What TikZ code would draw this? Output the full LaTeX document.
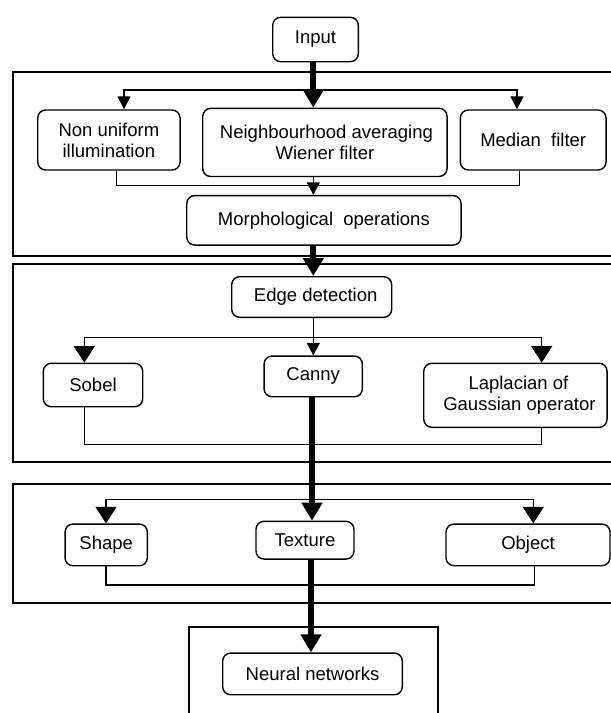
\documentclass[tikz,border=0pt]{standalone}
\usepackage{fontspec}
\setmainfont{Liberation Sans}
\usetikzlibrary{arrows.meta}
\begin{document}
\begin{tikzpicture}[x=1pt,y=-1pt,
  box/.style={draw, line width=1.4pt, rounded corners=8pt, align=center, inner sep=0pt,
              font=\fontsize{18.5}{21}\selectfont},
  panel/.style={line width=1.9pt},
  thinline/.style={line width=1.3pt},
  thickarrow/.style={line width=6pt, -{Triangle[width=20pt,length=18pt]}},
  smallarrow/.style={line width=1.3pt, -{Triangle[width=13pt,length=12.5pt]}},
  bigboth/.style={line width=1.3pt, {Triangle[width=21pt,length=16.5pt]}-{Triangle[width=21pt,length=16.5pt]}},
  smallboth/.style={line width=1.3pt, {Triangle[width=13pt,length=13pt]}-{Triangle[width=13pt,length=13pt]}},
]
\useasboundingbox (0,0) rectangle (611,713);
\fill[white] (0,0) rectangle (611,713);

% panels
\draw[panel] (613,71.7) -- (12.7,71.7) -- (12.7,256) -- (613,256);
\draw[panel] (613,264) -- (12.7,264) -- (12.7,461.7) -- (613,461.7);
\draw[panel] (613,483.7) -- (12.7,483.7) -- (12.7,603.3) -- (613,603.3);
\draw[panel] (189.3,715) -- (189.3,627) -- (438.3,627) -- (438.3,715);

% nodes
\node[box, minimum width=85.6pt, minimum height=44.4pt] (in) at (315.5,39.5) {Input};
\node[box, minimum width=142.3pt, minimum height=60pt] (nu) at (108.9,140) {Non uniform\\illumination};
\node[box, minimum width=244.3pt, minimum height=68.2pt] (nb) at (324.9,142.4) {\,Neighbourhood averaging\\Wiener filter};
\node[box, minimum width=145.7pt, minimum height=60pt] (med) at (533.2,140) {Median\ \ filter};
\node[box, minimum width=274.3pt, minimum height=49.5pt] (morph) at (323.9,220.3) {Morphological\ \ operations};
\node[box, minimum width=160pt, minimum height=40.6pt] (edge) at (311.7,297) {\hspace{8pt}Edge detection};
\node[box, minimum width=99.4pt, minimum height=43.4pt] (sob) at (93,385) {Sobel};
\node[box, minimum width=98.3pt, minimum height=40.7pt] (canny) at (313.2,376.4) {Canny};
\node[box, minimum width=183.3pt, minimum height=64pt] (lap) at (515.4,395.3) {\hspace{6pt}Laplacian of\\\hspace{8pt}Gaussian operator};
\node[box, minimum width=82.3pt, minimum height=41.7pt] (shape) at (106.2,544.9) {Shape};
\node[box, minimum width=98pt, minimum height=37.7pt] (tex) at (305,540.2) {Texture};
\node[box, minimum width=164pt, minimum height=41.7pt] (obj) at (528,544.9) {Object};
\node[box, minimum width=179.6pt, minimum height=41.7pt] (nn) at (312.5,673.9) {Neural networks};

% helper coordinates
\coordinate (spine) at (313.3,0);
\coordinate (spineb) at (312,0);
\coordinate (spinec) at (311,0);
\coordinate (a1L) at (124,90);   \coordinate (a1R) at (517,90);
\coordinate (c1L) at (116.7,185.7); \coordinate (c1R) at (519.3,185.7);
\coordinate (a2L) at (84.3,337.3); \coordinate (a2R) at (541.7,337.3);
\coordinate (c2L) at (84.3,444.3); \coordinate (c2R) at (541.7,444.3);
\coordinate (a3L) at (106,499.3); \coordinate (a3R) at (533.3,499.3);
\coordinate (c3L) at (106,585);   \coordinate (c3R) at (534.3,585);

% stage 1
\draw[smallboth] (nu.north -| a1L) -- (a1L) -- (a1R) -- (med.north -| a1R);
\draw[thinline] (nu.south -| c1L) -- (c1L) -- (c1R) -- (med.south -| c1R);
\draw[smallarrow] (nb.south -| spine) -- (morph.north -| spine);
\draw[thickarrow] (in.south -| spine) -- (nb.north -| spine);

% stage 2
\draw[thickarrow] (morph.south -| spine) -- (edge.north -| spine);
\draw[bigboth] (sob.north -| a2L) -- (a2L) -- (a2R) -- (lap.north -| a2R);
\draw[smallarrow] (edge.south -| spine) -- (canny.north -| spine);
\draw[thinline] (sob.south -| c2L) -- (c2L) -- (c2R) -- (lap.south -| c2R);

% stage 3
\draw[bigboth] (shape.north -| a3L) -- (a3L) -- (a3R) -- (obj.north -| a3R);
\draw[thinline] (shape.south -| c3L) -- (c3L) -- (c3R) -- (obj.south -| c3R);
\draw[thickarrow] (canny.south -| spineb) -- (tex.north -| spineb);

% stage 4
\draw[thickarrow] (tex.south -| spinec) -- (nn.north -| spinec);
\end{tikzpicture}
\end{document}
